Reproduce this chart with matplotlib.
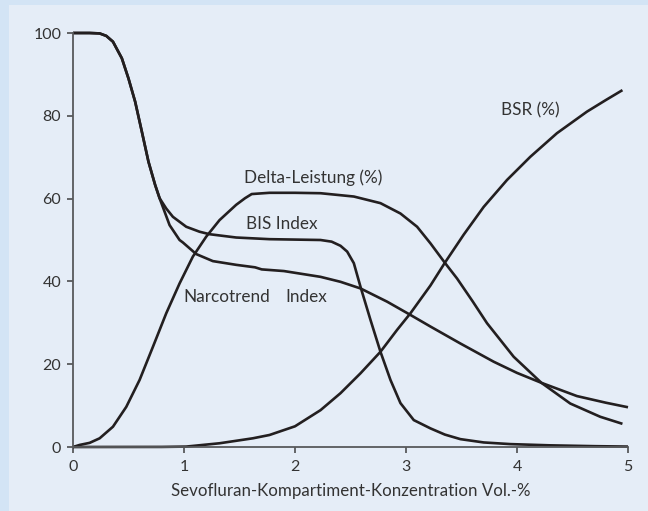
import matplotlib
matplotlib.use("Agg")
import matplotlib.pyplot as plt
from matplotlib.patches import Rectangle

plt.rcParams['font.family'] = ['Lato', 'DejaVu Sans']

# ---- data ----
bis_x = [0, 0.15, 0.24, 0.30, 0.36, 0.44, 0.50, 0.56, 0.62, 0.68, 0.74, 0.78, 0.84, 0.90, 1.02, 1.14, 1.23, 1.47, 1.77, 2.0, 2.23,
         2.33, 2.41, 2.47, 2.53, 2.59, 2.68, 2.77, 2.86, 2.95, 3.07, 3.22, 3.35, 3.49, 3.7, 3.94, 4.3, 4.7, 5.0]
bis_y = [100, 100, 99.9, 99.3, 97.9, 93.9, 89, 83.4, 76.2, 68.9, 63.3, 60.1, 57.6, 55.6, 53.2, 52.0, 51.4, 50.6, 50.2, 50.1, 50,
         49.6, 48.6, 47.2, 44.4, 38.7, 30.7, 23, 16.2, 10.6, 6.5, 4.5, 3.0, 1.9, 1.1, 0.7, 0.4, 0.2, 0.1]

nt_x = [0, 0.15, 0.24, 0.30, 0.36, 0.44, 0.50, 0.56, 0.62, 0.68, 0.74, 0.78, 0.87, 0.96, 0.99, 1.11, 1.26, 1.47, 1.64, 1.70, 1.9,
        2.23, 2.41, 2.59, 2.83, 3.04, 3.22, 3.49, 3.79, 4.0, 4.22, 4.54, 4.8, 5.0]
nt_y = [100, 100, 99.9, 99.3, 97.9, 93.9, 89, 83.4, 76.2, 68.9, 63.3, 60.1, 53.6, 50.0, 49.4, 46.6, 44.9, 44.0, 43.4, 42.9, 42.5,
        41.1, 39.9, 38.3, 35.1, 31.9, 29.1, 25.0, 20.6, 17.9, 15.5, 12.3, 10.7, 9.6]

delta_x = [0, 0.06, 0.15, 0.24, 0.36, 0.48, 0.60, 0.72, 0.84, 0.96, 1.08, 1.20, 1.32, 1.47, 1.55, 1.61, 1.77, 2.0, 2.23, 2.53,
           2.77, 2.95, 3.10, 3.22, 3.35, 3.46, 3.6, 3.73, 3.97, 4.22, 4.48, 4.75, 4.95]
delta_y = [0, 0.5, 1.0, 2.1, 4.9, 9.7, 16.2, 24.2, 32.3, 39.5, 46, 50.8, 54.8, 58.5, 60.1, 61.1, 61.4, 61.4, 61.3, 60.5,
           58.9, 56.4, 53.2, 49.2, 44.5, 40.7, 35.2, 29.9, 21.8, 15.5, 10.5, 7.3, 5.6]

bsr_x = [0, 0.8, 1.02, 1.32, 1.62, 1.77, 2.0, 2.23, 2.41, 2.59, 2.77, 2.92, 3.04, 3.22, 3.35, 3.52, 3.70, 3.91, 4.12, 4.36,
         4.63, 4.8, 4.95]
bsr_y = [0, 0.02, 0.1, 0.9, 2.1, 2.9, 5.0, 8.9, 13, 17.8, 23, 28.3, 32.3, 39.0, 44.5, 51.3, 58, 64.5, 70.1, 75.8,
         81, 83.8, 86.2]

labels = {
    "Delta-Leistung (%)": (2.16, 65.0, 'center'),
    "BIS Index": (1.88, 53.8, 'center'),
    "Narcotrend": (0.99, 36.2, 'left'),
    "Index": (1.91, 36.2, 'left'),
    "BSR (%)": (3.86, 81.2, 'left'),
}
xticks = [0, 1, 2, 3, 4, 5]
yticks = [0, 20, 40, 60, 80, 100]
xlabel = "Sevofluran-Kompartiment-Konzentration Vol.-%"

# ---- style ----
W, H = 648, 511
outer_c = '#d3e4f5'
inner_c = '#e5edf7'
line_c = '#231f20'
text_c = '#333333'
axis_c = '#58595b'

fig = plt.figure(figsize=(W/100, H/100), dpi=100)
fig.patch.set_facecolor(outer_c)
fig.patches.append(Rectangle((9/W, 0), 1 - 9/W, 1 - 5/H, transform=fig.transFigure,
                             facecolor=inner_c, edgecolor='none', zorder=-10))

ax = fig.add_axes([73/W, 1 - 447/H, (628-73)/W, (447-33)/H])
ax.set_facecolor('none')
for x, y in [(bis_x, bis_y), (nt_x, nt_y), (delta_x, delta_y), (bsr_x, bsr_y)]:
    ax.plot(x, y, color=line_c, lw=1.9, clip_on=False, solid_joinstyle='round',
            solid_capstyle='butt')

for s, (x, y, ha) in labels.items():
    ax.text(x, y, s, ha=ha, va='center', fontsize=12.3, color=text_c)

ax.set_xlim(0, 5)
ax.set_ylim(0, 100)
ax.set_xticks(xticks)
ax.set_yticks(yticks)
ax.spines['top'].set_visible(False)
ax.spines['right'].set_visible(False)
for sp in ['left', 'bottom']:
    ax.spines[sp].set_color(axis_c)
    ax.spines[sp].set_linewidth(1.3)
ax.tick_params(axis='both', direction='out', length=4.5, width=1.3, color=axis_c,
               labelsize=11.5, labelcolor=text_c)
ax.tick_params(axis='y', pad=4)
ax.tick_params(axis='x', pad=5)
ax.set_xlabel(xlabel, fontsize=12.2, color=text_c, labelpad=6)

fig.savefig("out.png", dpi=100, facecolor=fig.get_facecolor())
